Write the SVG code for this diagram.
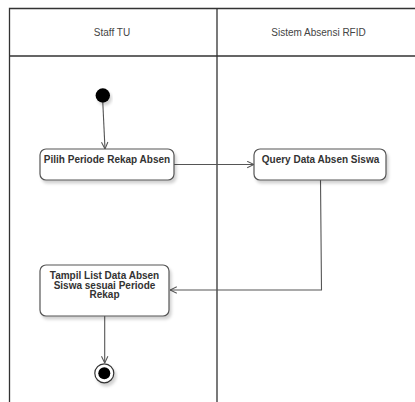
<svg xmlns="http://www.w3.org/2000/svg" width="415" height="402" viewBox="0 0 415 402">
  <style>
    .lane { fill: none; stroke: #333; stroke-width: 1.3; }
    .lane-title { font-family: "Liberation Sans", Arial, sans-serif; font-size: 10px; fill: #444; text-anchor: middle; }
    .action { fill: #fff; stroke: #555; stroke-width: 1.2; filter: url(#shadow); }
    .action-label { font-family: "Liberation Sans", Arial, sans-serif; font-size: 10px; font-weight: bold; fill: #333; text-anchor: middle; }
    .flow { fill: none; stroke: #555; stroke-width: 1.1; marker-end: url(#open-arrow); }
  </style>
  <defs>
    <filter id="shadow" x="-20%" y="-20%" width="140%" height="160%">
      <feDropShadow dx="2" dy="3" stdDeviation="1.5" flood-color="#000" flood-opacity="0.18"/>
    </filter>
    <marker id="open-arrow" viewBox="0 0 10 10" refX="9.5" refY="5" markerWidth="8" markerHeight="8" markerUnits="userSpaceOnUse" orient="auto">
      <path d="M1 1 L9.5 5 L1 9" fill="none" stroke="#555" stroke-width="1.3"/>
    </marker>
  </defs>

  <rect width="415" height="402" fill="#fff"/>

  <!-- swimlanes -->
  <g id="lanes">
    <path class="lane" d="M9.5 402 V8.5 H415 M9.5 56 H415 M217 8.5 V402"/>
    <text class="lane-title" x="112" y="35.5">Staff TU</text>
    <text class="lane-title" x="318.5" y="35.5">Sistem Absensi RFID</text>
  </g>

  <!-- connectors -->
  <g id="connectors">
    <path class="flow" d="M102.8 102.5 L105 149"/>
    <path class="flow" d="M174 164.5 H254"/>
    <path class="flow" d="M320.5 180 L321.5 290 H170"/>
    <path class="flow" d="M104.7 316 V363"/>
  </g>

  <g id="start">
    <circle cx="102.8" cy="95.5" r="7.2" fill="#000" filter="url(#shadow)"/>
  </g>

  <g id="pilih-periode">
    <rect class="action" x="40" y="149" width="134" height="31" rx="6"/>
    <text class="action-label" x="107" y="162.5">Pilih Periode Rekap Absen</text>
  </g>

  <g id="query-data">
    <rect class="action" x="254" y="149" width="132" height="31" rx="6"/>
    <text class="action-label" x="320.5" y="162.5">Query Data Absen Siswa</text>
  </g>

  <g id="tampil-list">
    <rect class="action" x="40" y="265" width="129" height="51" rx="6"/>
    <text class="action-label" x="104.5" y="279">Tampil List Data Absen</text>
    <text class="action-label" x="104.5" y="288.7">Siswa sesuai Periode</text>
    <text class="action-label" x="104.5" y="298.4">Rekap</text>
  </g>

  <g id="end">
    <circle cx="104.3" cy="373.3" r="9.5" fill="#fff" stroke="#333" stroke-width="1.2" filter="url(#shadow)"/>
    <circle cx="104.3" cy="373.3" r="6" fill="#000"/>
  </g>
</svg>
